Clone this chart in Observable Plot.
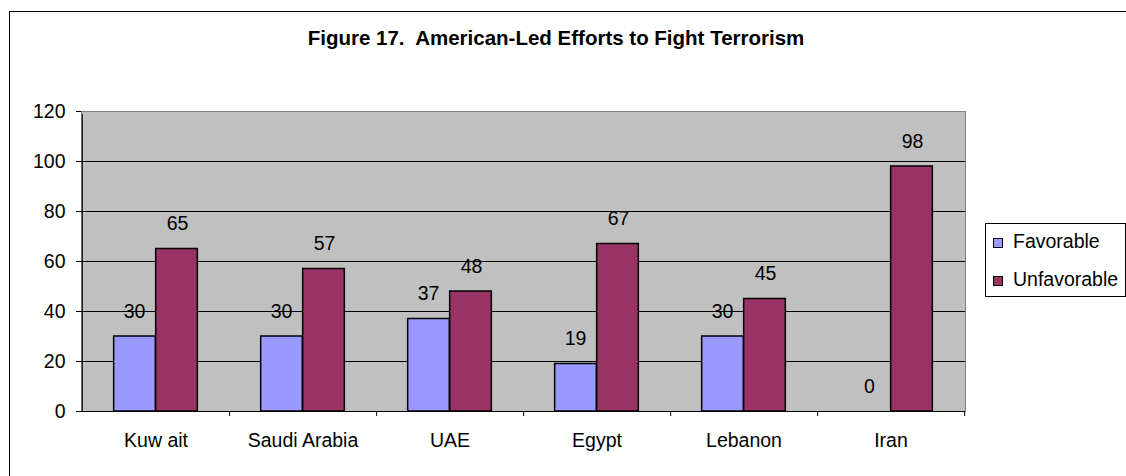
<!DOCTYPE html>
<html>
<head>
<meta charset="utf-8">
<script src="https://cdn.jsdelivr.net/npm/d3@7"></script>
<script src="https://cdn.jsdelivr.net/npm/@observablehq/plot@0.6"></script>
<style>
  html, body { margin: 0; padding: 0; background: #fff; overflow: hidden; }
  #wrap { position: relative; width: 1126px; height: 476px; overflow: hidden; font-family: "Liberation Sans", Arial, sans-serif; }
  #title { height: 70px; position: relative; }
  #title span { position: absolute; left: 0; width: 1112px; top: 28px; text-align: center; white-space: pre; font-weight: bold; font-size: 20.5px; line-height: 20px; color: #000; }
  #border { position: absolute; left: 9px; top: 11px; width: 3000px; height: 3000px; border-left: 1px solid #000; border-top: 1px solid #000; pointer-events: none; }
  #legend { position: absolute; left: 985px; top: 223px; width: 141px; height: 74px; box-sizing: border-box; border: 1px solid #000; background: #fff; }
  #legend .sw { position: absolute; left: 7px; width: 8px; height: 8px; border: 1px solid #000; }
  #legend .tx { position: absolute; left: 27px; font-size: 19.5px; line-height: 20px; color: #000; white-space: nowrap; }
</style>
</head>
<body>
<div id="wrap">
  <div id="title"><span></span></div>
  <div id="chart"></div>
  <div id="legend"></div>
  <div id="border"></div>
</div>
<script>
const title = "Figure 17.  American-Led Efforts to Fight Terrorism";
const countries = ["Kuw ait", "Saudi Arabia", "UAE", "Egypt", "Lebanon", "Iran"];
const favorable = [30, 30, 37, 19, 30, 0];
const unfavorable = [65, 57, 48, 67, 45, 98];
const yTicks = [0, 20, 40, 60, 80, 100, 120];
const gridValues = [20, 40, 60, 80, 100];
const seriesNames = ["Favorable", "Unfavorable"];
const seriesColors = ["#9999FF", "#993366"];

document.querySelector("#title span").textContent = title;

const favData = countries.map((c, i) => ({country: c, value: favorable[i]}));
const unfData = countries.map((c, i) => ({country: c, value: unfavorable[i]}));

const W = 1126, H = 406;
const mL = 81, mR = 161, mT = 41, mB = 65;
const step = (W - mL - mR) / countries.length;
const half = step / 2;
const barW = 42;
const outer = half - barW;

const fs = 19.5;

const chart = Plot.plot({
  width: W,
  height: H,
  marginLeft: mL,
  marginRight: mR,
  marginTop: mT,
  marginBottom: mB,
  style: {fontFamily: "'Liberation Sans', Arial, sans-serif", fontSize: fs + "px", background: "transparent", color: "#000", overflow: "visible"},
  x: {type: "band", domain: countries, padding: 0},
  y: {domain: [0, 120]},
  marks: [
    Plot.frame({fill: "#C0C0C0", stroke: "#808080", strokeWidth: 1}),
    Plot.ruleY(gridValues, {stroke: "#000", strokeWidth: 1}),
    Plot.barY(favData, {x: "country", y: "value", fill: seriesColors[0], stroke: "#000", strokeWidth: 1.5, insetLeft: outer, insetRight: half}),
    Plot.barY(unfData, {x: "country", y: "value", fill: seriesColors[1], stroke: "#000", strokeWidth: 1.5, insetLeft: half, insetRight: outer}),
    Plot.ruleY([0], {stroke: "#000", strokeWidth: 1}),
    Plot.ruleX([countries[0]], {dx: -half, y1: 0, y2: 120, stroke: "#000", strokeWidth: 1, insetBottom: -3}),
    Plot.text(favData, {x: "country", y: "value", text: d => String(d.value), dx: -half + outer + barW / 2 - 0.5, dy: -19, lineAnchor: "bottom", fontSize: fs, fill: "#000"}),
    Plot.text(unfData, {x: "country", y: "value", text: d => String(d.value), dx: barW / 2 + 0.5, dy: -19, lineAnchor: "bottom", fontSize: fs, fill: "#000"}),
    Plot.axisY({ticks: yTicks, tickSize: 5, tickPadding: 11, label: null, fontSize: fs, stroke: "#000"}),
    Plot.axisX({tickSize: 0, tickPadding: 22, label: null, fontSize: fs}),
    Plot.axisX({tickSize: 5, tickFormat: () => "", label: null, dx: half, stroke: "#000"})
  ]
});
document.getElementById("chart").appendChild(chart);

const legend = document.getElementById("legend");
const rows = [{sw: 14, tx: 6.6}, {sw: 52, tx: 44.6}];
seriesNames.forEach((name, i) => {
  const sw = document.createElement("div");
  sw.className = "sw";
  sw.style.top = rows[i].sw + "px";
  sw.style.background = seriesColors[i];
  legend.appendChild(sw);
  const tx = document.createElement("div");
  tx.className = "tx";
  tx.style.top = rows[i].tx + "px";
  tx.textContent = name;
  legend.appendChild(tx);
});
</script>
</body>
</html>
